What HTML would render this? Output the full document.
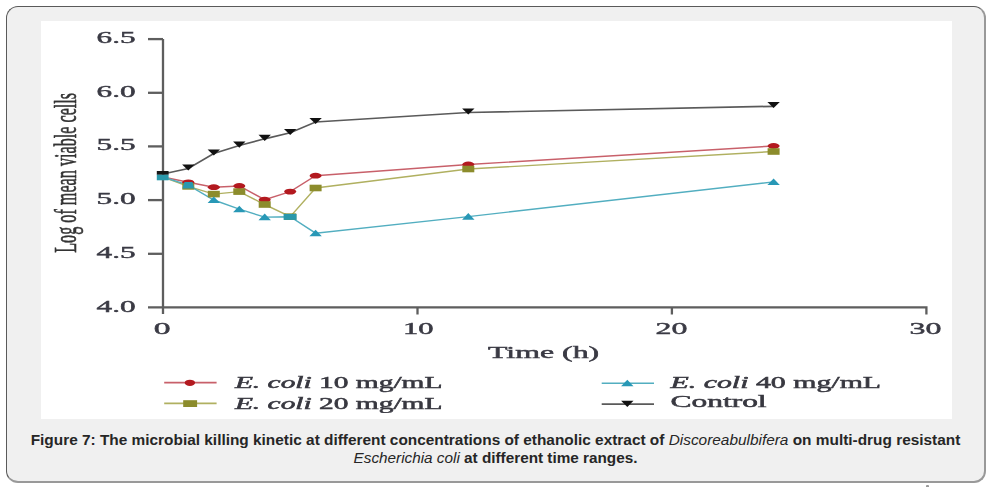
<!DOCTYPE html>
<html><head><meta charset="utf-8">
<style>
html,body{margin:0;padding:0;background:#fff;width:991px;height:487px;overflow:hidden;}
#box{position:absolute;left:6px;top:6px;width:980px;height:477px;box-sizing:border-box;border-style:solid;border-width:1.5px 2px 2px 1.5px;border-color:#5a5a5a #999 #999 #5a5a5a;border-radius:12px;background:#f0f0f0;}
#chart{position:absolute;left:41px;top:21px;width:911px;height:398px;background:#fff;}
#svg{position:absolute;left:0;top:0;filter:blur(0.5px);}
#cap{position:absolute;left:6px;top:431px;width:979px;text-align:center;font-family:"Liberation Sans",sans-serif;font-weight:bold;font-size:15.4px;line-height:18px;color:#262626;}
#cap .l2{font-size:15.3px;}
#cap i{font-weight:normal;}
</style></head>
<body>
<div id="box"></div>
<div id="chart"></div>
<div style="position:absolute;left:926px;top:485px;width:3px;height:2px;border-radius:1px 1px 0 0;background:#999;"></div>
<svg id="svg" width="991" height="487" viewBox="0 0 991 487">
  <g stroke="#5e5e5e" stroke-width="2.3" fill="none">
    <path d="M163 39 V314"/>
    <path d="M148 39.1 H163"/>
    <path d="M148 92.8 H163"/>
    <path d="M148 146.4 H163"/>
    <path d="M148 200.1 H163"/>
    <path d="M148 253.8 H163"/>
    <path d="M148 307.4 H926.4 V314.5"/>
    <path d="M417.5 307.4 V314.5"/>
    <path d="M671.9 307.4 V314.5"/>
  </g>
  <g font-family="Liberation Serif" font-weight="normal" font-size="16.8" fill="#3a3a44" stroke="#3a3a44" stroke-width="0.45">
    <text transform="translate(135.6,43.2) scale(1.86,1)" text-anchor="end">6.5</text>
    <text transform="translate(135.6,96.8) scale(1.86,1)" text-anchor="end">6.0</text>
    <text transform="translate(135.6,150.4) scale(1.86,1)" text-anchor="end">5.5</text>
    <text transform="translate(135.6,204.1) scale(1.86,1)" text-anchor="end">5.0</text>
    <text transform="translate(135.6,257.8) scale(1.86,1)" text-anchor="end">4.5</text>
    <text transform="translate(135.6,312.1) scale(1.86,1)" text-anchor="end">4.0</text>
    <text transform="translate(162.2,334.4) scale(2.0,1)" text-anchor="middle">0</text>
    <text transform="translate(418.2,334.4) scale(1.82,1)" text-anchor="middle">10</text>
    <text transform="translate(671.5,334.4) scale(1.9,1)" text-anchor="middle">20</text>
    <text transform="translate(925.4,334.4) scale(1.9,1)" text-anchor="middle">30</text>
    <text transform="translate(488,357.9) scale(1.82,1)" font-size="17.5" stroke-width="0.5">Time (h)</text>
  </g>
  <text transform="translate(75.8,252.8) rotate(-90) scale(0.522,1)" font-family="Liberation Serif" font-size="31" fill="#333" stroke="#333" stroke-width="0.6">Log of mean viable cells</text>

  <!-- series lines -->
  <g fill="none" stroke-width="1.4">
    <polyline stroke="#5a5a5a" stroke-width="1.7" points="162.9,174 188.3,168.5 213.8,153.5 239.3,145.5 264.7,138.8 290.2,132.8 315.6,122 468.3,112.5 773.6,106.3"/>
    <polyline stroke="#c8606a" points="162.9,177 188.3,182.3 213.8,187.2 239.3,186 264.7,199.7 290.2,191.6 315.6,175.7 468.3,164.5 773.6,146"/>
    <polyline stroke="#b0b060" points="162.9,177 188.3,186.4 213.8,194.1 239.3,191.6 264.7,204.5 290.2,216.7 315.6,188 468.3,169 773.6,151.5"/>
    <polyline stroke="#52aec0" points="162.9,177 188.3,185.2 213.8,200 239.3,209.2 264.7,217.1 290.2,216.7 315.6,233.2 468.3,216.6 773.6,181.9"/>
  </g>

  <defs>
    <ellipse id="mr" cx="0" cy="0" rx="6.0" ry="2.9" fill="#b3191f"/>
    <rect id="mo" x="-6.0" y="-3.3" width="12" height="6.6" fill="#8c8c2c"/>
    <path id="mc" d="M-6.2,3.1 L6.2,3.1 L0,-3.5 Z" fill="#2898b6"/>
    <path id="mk" d="M-6.2,-3 L6.2,-3 L0,3.1 Z" fill="#111"/>
  </defs>
  <g id="pts">
    <g id="red">
      <use href="#mr" x="188.3" y="182.3"/><use href="#mr" x="213.8" y="187.2"/><use href="#mr" x="239.3" y="186"/><use href="#mr" x="264.7" y="199.7"/><use href="#mr" x="290.2" y="191.6"/><use href="#mr" x="315.6" y="175.7"/><use href="#mr" x="468.3" y="164.5"/><use href="#mr" x="773.6" y="146"/>
    </g>
    <g id="olive">
      <use href="#mo" x="188.3" y="186.4"/><use href="#mo" x="213.8" y="194.1"/><use href="#mo" x="239.3" y="191.6"/><use href="#mo" x="264.7" y="204.5"/><use href="#mo" x="290.2" y="216.7"/><use href="#mo" x="315.6" y="188"/><use href="#mo" x="468.3" y="169"/><use href="#mo" x="773.6" y="151.5"/>
    </g>
    <g id="cyan">
      <path d="M182.4,188.6 L194.2,188.6 L192.5,182 L184.5,182 Z" fill="#2a98b0"/><use href="#mc" x="213.8" y="200"/><use href="#mc" x="239.3" y="209.2"/><use href="#mc" x="264.7" y="217.1"/><rect x="283.6" y="213.9" width="13" height="6" fill="#2a98aa"/><use href="#mc" x="315.6" y="233.2"/><use href="#mc" x="468.3" y="216.6"/><use href="#mc" x="773.6" y="181.9"/>
    </g>
    <g id="black">
      <rect x="156.8" y="174.4" width="11.8" height="5.9" fill="#2a98aa"/><rect x="156.8" y="171" width="11.8" height="3.6" fill="#161616"/><use href="#mk" x="188.3" y="167.5"/><use href="#mk" x="213.8" y="152.5"/><use href="#mk" x="239.3" y="144.6"/><use href="#mk" x="264.7" y="137.8"/><use href="#mk" x="290.2" y="131.9"/><use href="#mk" x="315.6" y="121"/><use href="#mk" x="468.3" y="111.5"/><use href="#mk" x="773.6" y="105"/>
    </g>
  </g>
  <!-- legend -->
  <g stroke-width="1.6">
    <path d="M164.2 382.6 H216.6" stroke="#c8606a"/>
    <path d="M164.2 403.4 H216.6" stroke="#b0b060"/>
    <path d="M601.7 383.2 H654" stroke="#52aec0"/>
    <path d="M601.7 404.1 H654" stroke="#5a5a5a" stroke-width="1.8"/>
  </g>
  <ellipse cx="189.9" cy="382.8" rx="5.2" ry="3.1" fill="#b3191f"/>
  <rect x="183.2" y="400.2" width="13.9" height="6.8" fill="#8c8c2c"/>
  <use href="#mc" x="627.3" y="383.2"/>
  <use href="#mk" x="627.3" y="403.8"/>
  <g font-family="Liberation Serif" font-weight="normal" font-size="16.3" fill="#383840" stroke="#383840" stroke-width="0.5">
    <text transform="translate(234.9,388.2) scale(1.806,1)"><tspan font-style="italic">E. coli</tspan> 10 mg/mL</text>
    <text transform="translate(234.9,408.8) scale(1.806,1)"><tspan font-style="italic">E. coli</tspan> 20 mg/mL</text>
    <text transform="translate(670.5,388.2) scale(1.832,1)"><tspan font-style="italic">E. coli</tspan> 40 mg/mL</text>
    <text transform="translate(670.5,407.2) scale(1.93,1)">Control</text>
  </g>
</svg>
<div id="cap">Figure 7: The microbial killing kinetic at different concentrations of ethanolic extract of <i>Discoreabulbifera</i> on multi-drug resistant<br><span class="l2"><i>Escherichia coli</i> at different time ranges.</span></div>
</body></html>
